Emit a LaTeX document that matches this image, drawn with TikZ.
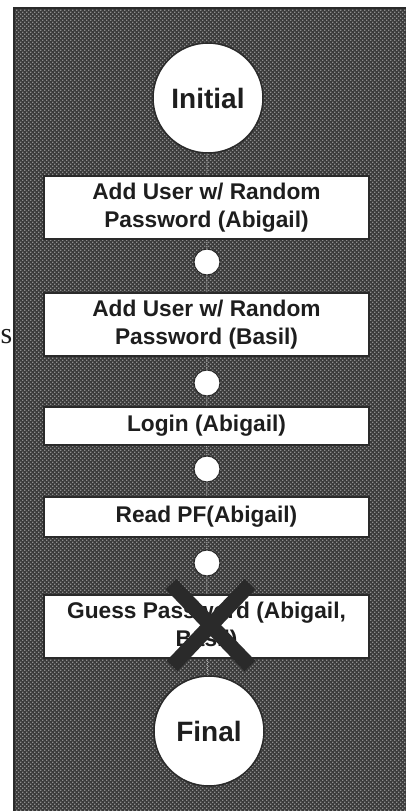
\documentclass[tikz,border=0pt]{standalone}
\usepackage{fontspec}
\setmainfont{Liberation Sans}
\newfontfamily\serifface{Liberation Serif}
\usetikzlibrary{patterns}
\definecolor{ink}{HTML}{1E1E1E}
\definecolor{panelgray}{HTML}{3A3A3A}
\definecolor{dotgray}{HTML}{8E8E8E}
\definecolor{edge}{HTML}{2A2A2A}
% checkerboard halftone: one light square per 2pt step on a diagonal grid
\pgfdeclarepatternformonly{halftone}{\pgfqpoint{-0.1pt}{-0.1pt}}{\pgfqpoint{4.1pt}{4.1pt}}{\pgfqpoint{4pt}{4pt}}{%
  \pgfpathrectangle{\pgfqpoint{0pt}{0pt}}{\pgfqpoint{1.3pt}{1.3pt}}%
  \pgfpathrectangle{\pgfqpoint{2pt}{2pt}}{\pgfqpoint{1.3pt}{1.3pt}}%
  \pgfusepath{fill}}
\begin{document}
\begin{tikzpicture}[x=1pt,y=1pt,
  state/.style={circle, fill=white, draw=edge, line width=1.5pt, inner sep=0pt,
    minimum size=110pt, text=ink, font=\bfseries\fontsize{28}{30}\selectfont},
  hub/.style={circle, fill=white, draw=edge, line width=1pt, inner sep=0pt, minimum size=26pt},
  actbox/.style={rectangle, fill=white, draw=edge, line width=2pt, inner sep=0pt,
    minimum width=325pt, text=ink, align=center, font=\bfseries\fontsize{22.7}{28}\selectfont},
  link/.style={draw=gray!70, line width=1pt, densely dotted},
  cross/.style={draw=edge, line width=15pt}]
\useasboundingbox (0,0) rectangle (406,-811);
% halftone panel
\fill[panelgray] (13,-8) rectangle (406,-811);
\fill[pattern=halftone, pattern color=dotgray] (13,-8) rectangle (406,-811);
\draw[edge, line width=2pt] (14,-811) -- (14,-8) -- (406,-8);
% stray letter at the left margin
\node[anchor=base west, inner sep=0pt, font=\serifface\fontsize{30}{30}\selectfont, text=ink]
  (margin) at (0.5,-343) {s};
% nodes
\node[state] (init) at (208,-98) {Initial};
\node[actbox, minimum height=63pt] (add1) at (206.5,-207.5) {Add User w/ Random\\Password (Abigail)};
\node[hub] (h1) at (207,-262) {};
\node[actbox, minimum height=63pt] (add2) at (206.5,-324.5) {Add User w/ Random\\Password (Basil)};
\node[hub] (h2) at (207,-383) {};
\node[actbox, minimum height=38pt] (login) at (206.5,-426) {Login (Abigail)};
\node[hub] (h3) at (207,-469) {};
\node[actbox, minimum height=40pt] (read) at (206.5,-517) {Read PF(Abigail)};
\node[hub] (h4) at (207,-563) {};
\node[actbox, minimum height=63pt] (guess) at (206.5,-626.5) {Guess Password (Abigail,\\Basil)};
\node[state] (final) at (209,-731) {Final};
% connectors
\draw[link] (init) -- (add1);
\draw[link] (add1) -- (h1);
\draw[link] (h1) -- (add2);
\draw[link] (add2) -- (h2);
\draw[link] (h2) -- (login);
\draw[link] (login) -- (h3);
\draw[link] (h3) -- (read);
\draw[link] (read) -- (h4);
\draw[link] (h4) -- (guess);
\draw[link] (guess) -- (final);
% the failed step is crossed out
\coordinate (xa) at (171,-584);
\coordinate (xb) at (250,-666);
\coordinate (xc) at (250,-584);
\coordinate (xd) at (172,-666);
\draw[cross] (xa) -- (xb);
\draw[cross] (xc) -- (xd);
\end{tikzpicture}
\end{document}
